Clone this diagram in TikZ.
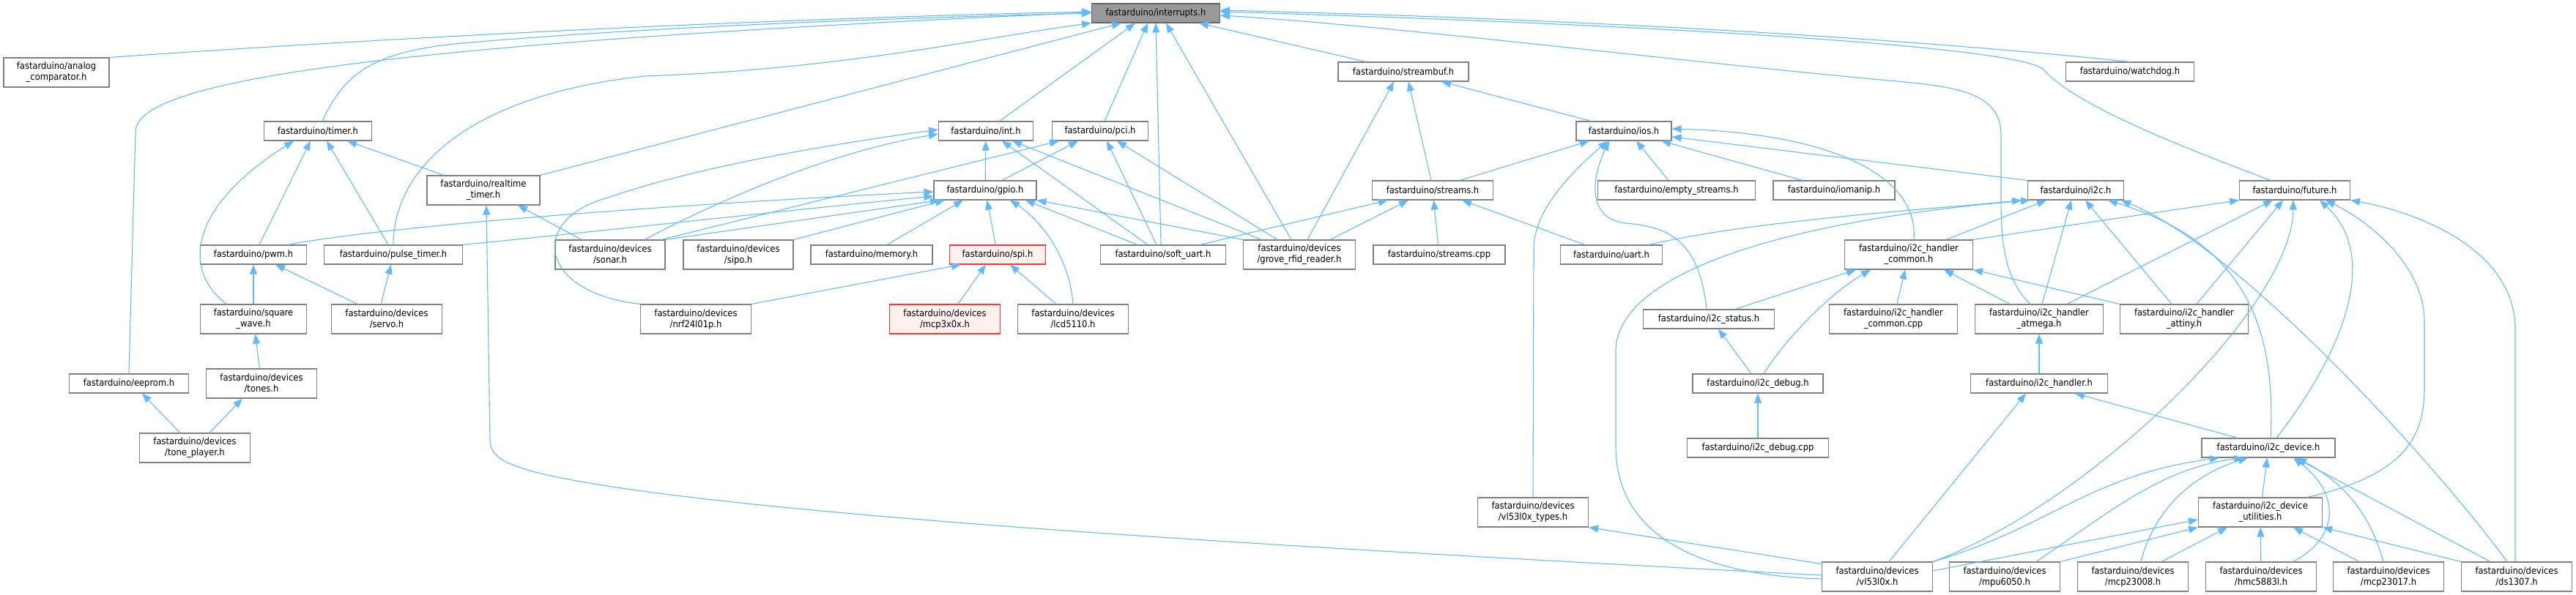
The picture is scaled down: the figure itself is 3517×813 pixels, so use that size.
\documentclass[tikz,border=0pt]{standalone}
\usepackage{fontspec}
\setmainfont{DejaVu Sans Condensed}
\usetikzlibrary{arrows.meta}
\definecolor{edgeblue}{HTML}{63B8FF}
\definecolor{grey40}{HTML}{808080}
\definecolor{grey60}{HTML}{999999}
\definecolor{pinkfill}{HTML}{FFF0F0}
\begin{document}
\begin{tikzpicture}[x=1pt,y=-1pt,
 nd/.style={draw=grey40, fill=white, line width=1.1pt, inner sep=0pt, minimum height=26pt, align=center, font=\fontsize{12.8}{15}\selectfont},
 nd2/.style={nd, minimum height=40pt},
 root/.style={nd, fill=grey60, draw=grey40!80!black},
 trunc/.style={nd2, draw=red!80, fill=pinkfill},
 edge/.style={draw=edgeblue, line width=1.1pt, -{Triangle[length=13pt,width=10pt]}}]
\useasboundingbox (0,0) rectangle (3517,813);
\node[root, minimum width=175pt] (intr) at (1578,18) {fastarduino/interrupts.h};
\node[nd2, minimum width=144pt] (anacomp) at (77,99) {fastarduino/analog\\\_comparator.h};
\node[nd, minimum width=163pt] (eeprom) at (176,524) {fastarduino/eeprom.h};
\node[nd, minimum width=147pt] (timer) at (434,179) {fastarduino/timer.h};
\node[nd2, minimum width=154pt] (rtimer) at (660,260) {fastarduino/realtime\\\_timer.h};
\node[nd, minimum width=145pt] (pwm) at (346,348) {fastarduino/pwm.h};
\node[nd, minimum width=189pt] (pulse) at (537,348) {fastarduino/pulse\_timer.h};
\node[nd2, minimum width=150pt] (sonar) at (833,348) {fastarduino/devices\\/sonar.h};
\node[nd2, minimum width=150pt] (sipo) at (1008,348) {fastarduino/devices\\/sipo.h};
\node[nd, minimum width=166pt] (memory) at (1190,348) {fastarduino/memory.h};
\node[trunc, minimum height=26pt, minimum width=131pt] (spi) at (1362,348) {fastarduino/spi.h};
\node[nd, minimum width=171pt] (softuart) at (1588,348) {fastarduino/soft\_uart.h};
\node[nd2, minimum width=153pt] (grove) at (1774,348) {fastarduino/devices\\/grove\_rfid\_reader.h};
\node[nd2, minimum width=145pt] (sqwave) at (346,436) {fastarduino/square\\\_wave.h};
\node[nd2, minimum width=151pt] (servo) at (528,436) {fastarduino/devices\\/servo.h};
\node[nd2, minimum width=151pt] (nrf) at (950,436) {fastarduino/devices\\/nrf24l01p.h};
\node[trunc, minimum width=151pt] (mcp3) at (1290,436) {fastarduino/devices\\/mcp3x0x.h};
\node[nd2, minimum width=151pt] (lcd) at (1465,436) {fastarduino/devices\\/lcd5110.h};
\node[nd2, minimum width=151pt] (tones) at (357,524) {fastarduino/devices\\/tones.h};
\node[nd2, minimum width=151pt] (toneplayer) at (266,612) {fastarduino/devices\\/tone\_player.h};
\node[nd, minimum width=129pt] (int) at (1346,179) {fastarduino/int.h};
\node[nd, minimum width=131pt] (pci) at (1502,179) {fastarduino/pci.h};
\node[nd, minimum width=140pt] (gpio) at (1345,260) {fastarduino/gpio.h};
\node[nd, minimum width=178pt] (streambuf) at (1916,98) {fastarduino/streambuf.h};
\node[nd, minimum width=130pt] (ios) at (2217,179) {fastarduino/ios.h};
\node[nd, minimum width=165pt] (streams) at (1956,260) {fastarduino/streams.h};
\node[nd, minimum width=215pt] (empty) at (2289,260) {fastarduino/empty\_streams.h};
\node[nd, minimum width=166pt] (iomanip) at (2504,260) {fastarduino/iomanip.h};
\node[nd, minimum width=175pt] (watchdog) at (2908,98) {fastarduino/watchdog.h};
\node[nd, minimum width=131pt] (i2c) at (2834,260) {fastarduino/i2c.h};
\node[nd, minimum width=151pt] (future) at (3133,260) {fastarduino/future.h};
\node[nd, minimum width=180pt] (streamscpp) at (1965,348) {fastarduino/streams.cpp};
\node[nd, minimum width=139pt] (uart) at (2200,348) {fastarduino/uart.h};
\node[nd2, minimum width=175pt] (i2chc) at (2606,348) {fastarduino/i2c\_handler\\\_common.h};
\node[nd, minimum width=179pt] (i2cstatus) at (2333,436) {fastarduino/i2c\_status.h};
\node[nd2, minimum width=175pt] (i2chccpp) at (2585,436) {fastarduino/i2c\_handler\\\_common.cpp};
\node[nd, minimum width=178pt] (i2cdebug) at (2400,524) {fastarduino/i2c\_debug.h};
\node[nd2, minimum width=175pt] (atmega) at (2784,436) {fastarduino/i2c\_handler\\\_atmega.h};
\node[nd2, minimum width=175pt] (attiny) at (2982,436) {fastarduino/i2c\_handler\\\_attiny.h};
\node[nd, minimum width=187pt] (i2chandler) at (2784,524) {fastarduino/i2c\_handler.h};
\node[nd, minimum width=193pt] (i2cdebugcpp) at (2400,612) {fastarduino/i2c\_debug.cpp};
\node[nd2, minimum width=151pt] (vltypes) at (2093,700) {fastarduino/devices\\/vl53l0x\_types.h};
\node[nd2, minimum width=151pt] (vl) at (2563,788) {fastarduino/devices\\/vl53l0x.h};
\node[nd, minimum width=182pt] (i2cdev) at (3097,612) {fastarduino/i2c\_device.h};
\node[nd2, minimum width=169pt] (i2cdevu) at (3086,700) {fastarduino/i2c\_device\\\_utilities.h};
\node[nd2, minimum width=151pt] (mpu) at (2737,788) {fastarduino/devices\\/mpu6050.h};
\node[nd2, minimum width=151pt] (mcp8) at (2912,788) {fastarduino/devices\\/mcp23008.h};
\node[nd2, minimum width=151pt] (hmc) at (3087,788) {fastarduino/devices\\/hmc5883l.h};
\node[nd2, minimum width=151pt] (mcp17) at (3261,788) {fastarduino/devices\\/mcp23017.h};
\node[nd2, minimum width=151pt] (ds) at (3436,788) {fastarduino/devices\\/ds1307.h};
% edges to interrupts.h
\draw[edge] (anacomp.north east) .. controls (700,40) and (1200,22) .. ([yshift=2pt]intr.west);
\draw[edge] (eeprom.north) -- (185,180) .. controls (185,110) and (520,60) .. ([yshift=1pt]intr.west);
\draw[edge] ([xshift=6pt]timer.north) .. controls (470,100) and (510,72) .. (620,60) .. controls (900,35) and (1250,24) .. (intr.west);
\draw[edge] (rtimer.north east) -- ([xshift=-47pt]intr.south);
\draw[edge] (pulse.north) .. controls (537,230) and (640,130) .. (880,104) .. controls (1150,95) and (1350,50) .. (intr.south west);
\draw[edge] (int) -- ([xshift=-28pt]intr.south);
\draw[edge] (pci) -- ([xshift=-11pt]intr.south);
\draw[edge] ([xshift=-3pt]softuart.north) -- (intr.south);
\draw[edge] ([xshift=-11pt]grove.north) -- ([xshift=14pt]intr.south);
\draw[edge] ([xshift=-51pt]streambuf.north) -- ([xshift=59pt]intr.south);
\draw[edge] (watchdog.north) .. controls (2500,42) and (2000,22) .. ([yshift=4pt]intr.east);
\draw[edge] ([xshift=-33pt]future.north) .. controls (2950,190) and (2830,140) .. (2790,95) .. controls (2760,65) and (2300,35) .. ([yshift=2pt]intr.east);
\draw[edge] ([xshift=-12pt]atmega.north) .. controls (2734,380) and (2732,320) .. (2732,270) -- (2732,185) .. controls (2732,135) and (2690,120) .. (2600,112) .. controls (2300,85) and (1900,35) .. ([yshift=-3pt]intr.east);
% timers
\draw[edge] ([yshift=2pt]vl.west) .. controls (1700,745) and (950,700) .. (730,645) .. controls (690,633) and (669,625) .. (669,600) -- ([xshift=4pt]rtimer.south);
\draw[edge] ([xshift=-39pt]sonar.north) -- ([xshift=47pt]rtimer.south);
\draw[edge] ([xshift=-54pt]rtimer.north) -- ([xshift=40pt]timer.south);
\draw[edge] ([xshift=-37pt]sqwave.north) .. controls (250,370) and (255,285) .. ([xshift=-33pt]timer.south);
\draw[edge] ([xshift=8pt]pwm.north) -- ([xshift=-10pt]timer.south);
\draw[edge] ([xshift=-7pt]pulse.north) -- ([xshift=12pt]timer.south);
% gpio / int / pci / spi
\draw[edge] ([xshift=47pt]pwm.north) .. controls (520,310) and (900,280) .. ([yshift=-2pt]gpio.west);
\draw[edge] (pulse.north east) .. controls (800,318) and (1050,290) .. ([yshift=-8pt]gpio.west);
\draw[edge] (sonar.north east) -- ([xshift=-62pt]gpio.south);
\draw[edge] ([xshift=47pt]sonar.north) .. controls (960,285) and (1120,210) .. ([yshift=-4pt]int.west);
\draw[edge] ([xshift=70pt]sonar.north) -- ([xshift=-56pt]pci.south);
\draw[edge] (nrf.north west) .. controls (735,400) and (720,300) .. (830,270) .. controls (960,225) and (1150,195) .. ([yshift=2pt]int.west);
\draw[edge] (nrf.north east) -- ([xshift=-50pt]spi.south);
\draw[edge] (sipo.north east) -- ([xshift=-55pt]gpio.south);
\draw[edge] ([xshift=21pt]memory.north) -- ([xshift=-30pt]gpio.south);
\draw[edge] (spi) -- (gpio);
\draw[edge] (lcd.north) .. controls (1460,350) and (1420,300) .. ([xshift=34pt]gpio.south);
\draw[edge] ([xshift=-23pt]lcd.north) -- ([xshift=17pt]spi.south);
\draw[edge] ([xshift=18pt]mcp3.north) -- ([xshift=-16pt]spi.south);
\draw[edge] ([xshift=-35pt]softuart.north) -- ([xshift=55pt]gpio.south);
\draw[edge] (grove.north west) -- (gpio.south east);
\draw[edge] (gpio) -- (int);
\draw[edge] ([xshift=23pt]gpio.north) -- ([xshift=-30pt]pci.south);
\draw[edge] ([xshift=-21pt]softuart.north) -- ([xshift=22pt]int.south);
\draw[edge] ([xshift=-9pt]softuart.north) -- ([xshift=9pt]pci.south);
\draw[edge] ([xshift=-52pt]grove.north) -- ([xshift=36pt]int.south);
\draw[edge] ([xshift=-30pt]grove.north) -- ([xshift=23pt]pci.south);
% streams
\draw[edge] ([xshift=11pt]grove.north) -- ([xshift=-13pt]streambuf.south);
\draw[edge] ([xshift=42pt]grove.north) -- ([xshift=-33pt]streams.south);
\draw[edge] ([xshift=50pt]softuart.north) -- ([xshift=-61pt]streams.south);
\draw[edge] (streamscpp) -- (streams);
\draw[edge] ([xshift=-36pt]uart.north) -- ([xshift=40pt]streams.south);
\draw[edge] ([xshift=51pt]uart.north) .. controls (2400,300) and (2650,285) .. ([xshift=-74pt]i2c.south);
\draw[edge] ([xshift=-2pt]streams.north) -- ([xshift=7pt]streambuf.south);
\draw[edge] ([xshift=37pt]streams.north) -- ([xshift=-47pt]ios.south);
\draw[edge] ([xshift=-45pt]ios.north) -- ([xshift=52pt]streambuf.south);
\draw[edge] (empty) -- ([xshift=17pt]ios.south);
\draw[edge] ([xshift=-43pt]iomanip.north) -- ([xshift=51pt]ios.south);
\draw[edge] (vltypes.north) -- (2094,340) .. controls (2094,290) and (2140,240) .. ([xshift=-22pt]ios.south);
\draw[edge] ([xshift=-3pt]i2cstatus.north) .. controls (2320,330) and (2280,310) .. (2220,305) .. controls (2170,300) and (2170,250) .. ([xshift=-20pt]ios.south);
\draw[edge] (i2c.north west) -- ([yshift=-8pt]ios.east);
\draw[edge] ([xshift=7pt]i2chc.north) .. controls (2620,240) and (2500,182) .. ([yshift=3pt]ios.east);
% i2c
\draw[edge] ([xshift=51pt]i2chc.north) -- ([xshift=-40pt]i2c.south);
\draw[edge] (i2chc.north east) -- (future.south west);
\draw[edge] ([xshift=4pt]atmega.north) -- ([xshift=-6pt]i2c.south);
\draw[edge] ([xshift=-17pt]attiny.north) -- ([xshift=13pt]i2c.south);
\draw[edge] ([xshift=38pt]atmega.north) -- ([xshift=-30pt]future.south);
\draw[edge] ([xshift=17pt]attiny.north) -- ([xshift=-16pt]future.south);
\draw[edge] ([xshift=-40pt]atmega.north) -- ([xshift=48pt]i2chc.south);
\draw[edge] (attiny.north west) -- (i2chc.south east);
\draw[edge] ([xshift=36pt]i2cstatus.north) -- ([xshift=-72pt]i2chc.south);
\draw[edge] ([xshift=8pt]i2cdebug.north) .. controls (2440,460) and (2500,400) .. ([xshift=-52pt]i2chc.south);
\draw[edge] (i2chccpp) -- (i2chc);
\draw[edge] ([xshift=-9pt]i2cdebug.north) -- ([xshift=13pt]i2cstatus.south);
\draw[edge] (i2cdebugcpp) -- (i2cdebug);
\draw[edge] (i2chandler) -- (atmega);
\draw[edge] ([xshift=-42pt]i2cdev.north) -- ([xshift=49pt]i2chandler.south);
\draw[edge] ([xshift=16pt]vl.north) -- ([xshift=-18pt]i2chandler.south);
\draw[edge] ([xshift=3pt]i2cdev.north) .. controls (3108,440) and (3060,330) .. ([xshift=44pt]i2c.south);
\draw[edge] ([xshift=11pt]i2cdev.north) .. controls (3200,480) and (3250,350) .. ([xshift=34pt]future.south);
\draw[edge] (vl.north east) .. controls (2850,690) and (3130,420) .. ([xshift=-2pt]future.south);
\draw[edge] ([xshift=64pt]i2cdevu.north) .. controls (3280,650) and (3310,600) .. (3310,530) -- (3310,440) .. controls (3310,360) and (3230,300) .. ([xshift=42pt]future.south);
\draw[edge] ([xshift=-2pt]ds.north) -- (3434,450) .. controls (3434,340) and (3300,290) .. (future.south east);
\draw[edge] ([xshift=-13pt]ds.north) .. controls (3330,640) and (3060,340) .. ([xshift=62pt]i2c.south);
\draw[edge] ([yshift=-3pt]vl.west) .. controls (2300,785) and (2206,720) .. (2206,610) -- (2206,480) .. controls (2206,370) and (2450,300) .. ([xshift=-62pt]i2c.south);
% i2c_device
\draw[edge] ([xshift=43pt]mpu.north) .. controls (2880,700) and (2950,640) .. ([xshift=-34pt]i2cdev.south);
\draw[edge] (vl.north east) .. controls (2800,720) and (2850,650) .. ([xshift=-67pt]i2cdev.south);
\draw[edge] ([xshift=11pt]mcp8.north) .. controls (2940,700) and (2990,650) .. ([xshift=-28pt]i2cdev.south);
\draw[edge] (i2cdevu) -- (i2cdev);
\draw[edge] ([xshift=44pt]hmc.north) .. controls (3200,730) and (3190,670) .. ([xshift=34pt]i2cdev.south);
\draw[edge] ([xshift=-7pt]mcp17.north) .. controls (3235,700) and (3200,660) .. ([xshift=39pt]i2cdev.south);
\draw[edge] ([xshift=-36pt]ds.north) -- ([xshift=37pt]i2cdev.south);
% i2c_device_utilities
\draw[edge] ([yshift=8pt]vl.east) -- ([yshift=-10pt]i2cdevu.west);
\draw[edge] (mpu.north east) -- (i2cdevu.south west);
\draw[edge] ([xshift=39pt]mcp8.north) -- ([xshift=-45pt]i2cdevu.south);
\draw[edge] (hmc) -- (i2cdevu);
\draw[edge] ([xshift=-40pt]mcp17.north) -- ([xshift=45pt]i2cdevu.south);
\draw[edge] (ds.north west) -- (i2cdevu.south east);
\draw[edge] ([yshift=-3pt]vl.north west) -- (vltypes.south east);
% misc
\draw[edge] (tones) -- (sqwave);
\draw[edge] ([xshift=-20pt]toneplayer.north) -- ([xshift=18pt]eeprom.south);
\draw[edge] ([xshift=20pt]toneplayer.north) -- ([xshift=-26pt]tones.south);
\draw[edge] (sqwave) -- (pwm);
\draw[edge] ([xshift=-40pt]servo.north) -- ([xshift=30pt]pwm.south);
\draw[edge] ([xshift=-8pt]servo.north) -- ([xshift=-3pt]pulse.south);
\end{tikzpicture}
\end{document}
